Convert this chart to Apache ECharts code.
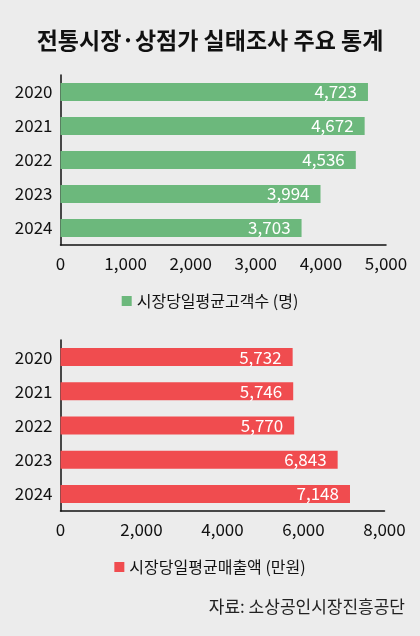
<!DOCTYPE html>
<html>
<head>
<meta charset="utf-8">
<script src="https://cdn.jsdelivr.net/npm/echarts@6/dist/echarts.min.js"></script>
<style>
  html, body { margin: 0; padding: 0; background: #ececec; }
  #chart { width: 420px; height: 636px; }
</style>
</head>
<body>
<div id="chart"></div>
<script>
// 연도 (categories)
var years = ['2020', '2021', '2022', '2023', '2024'];
// 시장당 일평균 고객수 (명)
var customers = [4723, 4672, 4536, 3994, 3703];
// 시장당 일평균 매출액 (만원)
var sales = [5732, 5746, 5770, 6843, 7148];

var customerName = '시장당일평균고객수 (명)';
var salesName = '시장당일평균매출액 (만원)';

var font = '"Noto Sans CJK KR", "Noto Sans", sans-serif';
var green = '#6cb87c';
var red = '#f04c4f';

function fmt(v) {
  return v.toLocaleString('en-US');
}

var chart = echarts.init(document.getElementById('chart'));

var catAxis = function (gridIndex) {
  return {
    type: 'category',
    gridIndex: gridIndex,
    data: years,
    inverse: true,
    axisLine: { lineStyle: { color: '#111', width: 1.5 } },
    axisTick: { show: false },
    axisLabel: { color: '#111', fontSize: 17, fontFamily: font, margin: 8 }
  };
};

var valAxis = function (gridIndex, max, interval) {
  return {
    type: 'value',
    gridIndex: gridIndex,
    min: 0,
    max: max,
    interval: interval,
    axisLine: { show: true, lineStyle: { color: '#111', width: 1.5 } },
    axisTick: { show: false },
    splitLine: { show: false },
    axisLabel: { color: '#111', fontSize: 17, fontFamily: font, margin: 10,
      formatter: function (v) { return fmt(v); } }
  };
};

var barLabel = {
  show: true,
  position: 'insideRight',
  distance: 11,
  color: '#fff',
  fontSize: 17,
  fontFamily: font,
  formatter: function (p) { return fmt(p.value); }
};

chart.setOption({
  backgroundColor: '#ececec',
  animation: false,
  title: {
    text: '전통시장·상점가 실태조사 주요 통계',
    left: 'center',
    top: 24,
    textStyle: { fontSize: 23, fontWeight: 'bold', color: '#111', fontFamily: font }
  },
  legend: [
    {
      data: [customerName],
      left: 'center',
      top: 288,
      itemWidth: 10,
      itemHeight: 10,
      itemGap: 8,
      icon: 'rect',
      textStyle: { fontSize: 16, color: '#111', fontFamily: font }
    },
    {
      data: [salesName],
      left: 'center',
      top: 554,
      itemWidth: 10,
      itemHeight: 10,
      icon: 'rect',
      textStyle: { fontSize: 16, color: '#111', fontFamily: font }
    }
  ],
  graphic: [{
    type: 'text',
    right: 15,
    top: 598,
    style: { text: '자료: 소상공인시장진흥공단', fontSize: 17, fill: '#222', fontFamily: font }
  }],
  grid: [
    { left: 60.5, top: 75, width: 325.5, height: 170 },
    { left: 60.5, top: 340, width: 324, height: 171 }
  ],
  xAxis: [valAxis(0, 5000, 1000), valAxis(1, 8000, 2000)],
  yAxis: [catAxis(0), catAxis(1)],
  series: [
    {
      name: customerName,
      type: 'bar',
      xAxisIndex: 0,
      yAxisIndex: 0,
      data: customers,
      barWidth: 18,
      itemStyle: { color: green },
      label: barLabel
    },
    {
      name: salesName,
      type: 'bar',
      xAxisIndex: 1,
      yAxisIndex: 1,
      data: sales,
      barWidth: 18,
      itemStyle: { color: red },
      label: barLabel
    }
  ]
});
</script>
</body>
</html>
